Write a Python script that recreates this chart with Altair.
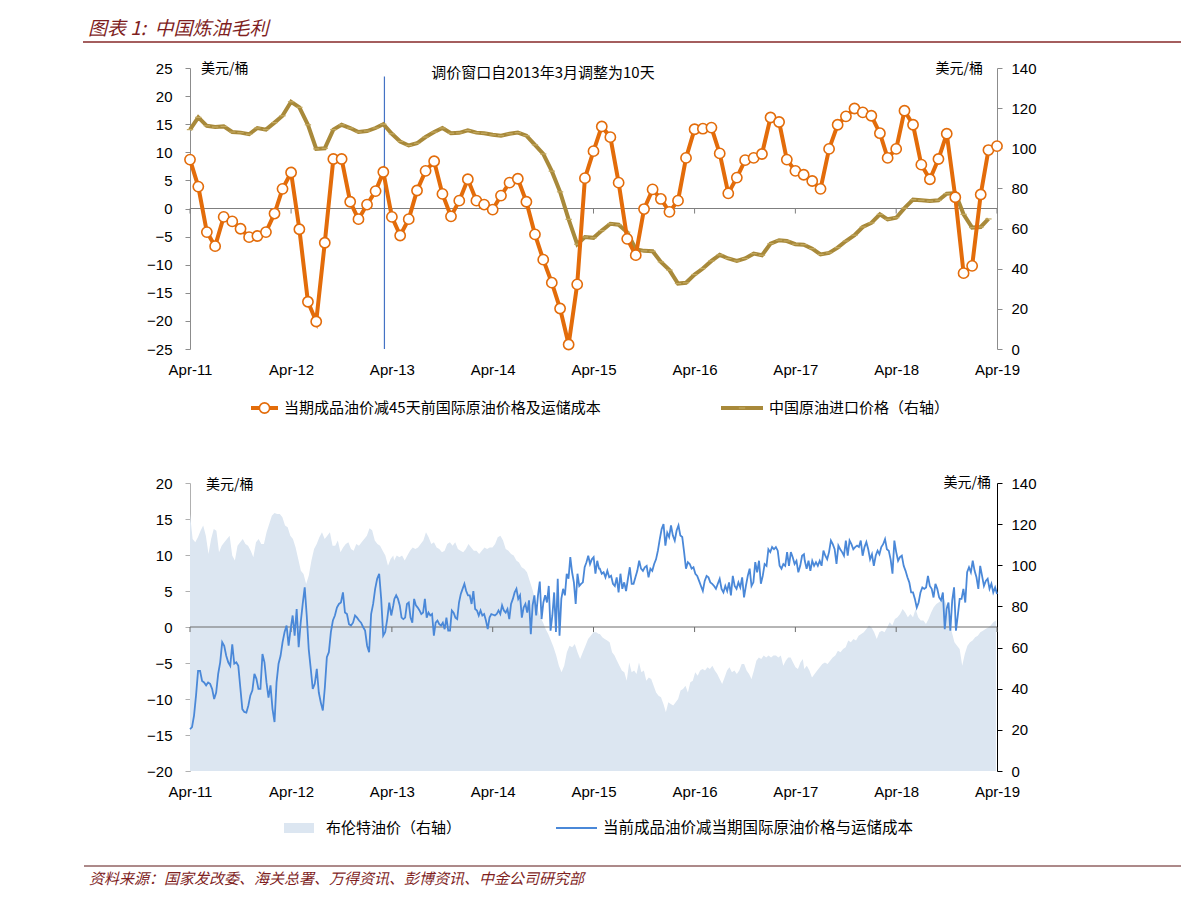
import altair as alt
import pandas as pd

# ---------------- data ----------------
# top panel, monthly from Apr-2011
orange = [8.7, 3.9, -4.2, -6.7, -1.5, -2.3, -3.6, -5.1, -4.9, -4.2,
          -0.9, 3.5, 6.4, -3.7, -16.6, -20.1, -6.1, 8.8, 8.8, 1.2,
          -1.9, 0.7, 3.1, 6.5, -1.5, -4.8, -1.9, 3.2, 6.7, 8.4,
          2.6, -1.4, 1.4, 5.2, 1.4, 0.7, -0.2, 2.3, 4.6, 5.3,
          1.2, -4.6, -9.1, -13.2, -17.8, -24.2, -13.5, 5.4, 10.2, 14.6,
          12.7, 4.6, -5.4, -8.3, -0.1, 3.4, 1.7, -0.6, 1.4, 9.0,
          14.1, 14.2, 14.4, 9.8, 2.7, 5.5, 8.6, 9.0, 9.7, 16.2,
          15.4, 8.7, 6.7, 6.0, 4.9, 3.5, 10.6, 14.9, 16.4, 17.8,
          17.1, 16.5, 13.4, 9.0, 10.6, 17.4, 14.9, 7.8, 5.2, 8.8,
          13.3, 2.0, -11.5, -10.2, 2.5, 10.4, 11.1]
olive = [109.3, 115.4, 111.2, 110.6, 110.9, 108.1, 107.8, 107.0, 110.1, 109.3,
         112.8, 116.2, 123.2, 120.4, 111.7, 99.7, 100.0, 109.3, 111.7, 110.1,
         108.1, 108.6, 110.1, 112.0, 107.2, 103.4, 101.4, 102.5, 105.6, 108.1,
         110.1, 107.5, 107.7, 108.9, 107.8, 107.5, 106.7, 106.3, 107.2, 107.8,
         106.3, 101.7, 97.2, 88.6, 78.3, 64.6, 52.2, 55.8, 55.4, 59.0,
         62.4, 61.9, 58.2, 49.7, 48.9, 48.7, 43.4, 39.3, 32.6, 33.0,
         37.1, 40.1, 43.9, 46.9, 45.1, 43.9, 45.1, 47.5, 46.7, 52.5,
         54.2, 53.8, 52.2, 52.0, 50.0, 47.1, 47.9, 50.5, 53.8, 56.7,
         60.8, 62.8, 67.1, 64.6, 65.4, 70.2, 74.4, 74.1, 73.7, 74.1,
         77.4, 77.7, 67.1, 60.5, 60.8, 64.8]

# bottom panel: margin (left axis), four consecutive stretches
blue1 = [-14.2, -13.9, -12.3, -9.5, -6.1, -6.1, -7.5, -7.7, -8.1, -7.7, -7.9, -8.6, -10, -9.1,
         -6.5, -4.9, -2.1, -2.6, -4.0, -4.9, -5.4, -2.4, -5.1, -4.9, -5.4, -8.4, -11.4, -11.8,
         -11.9, -10.9, -9.5, -8.8, -6.5, -7.2, -8.6, -8.6, -3.75, -4.9, -7.7, -9.8, -8.1, -11.4,
         -13.2, -7.7, -5.1, -4, -2.1, -0.7, 0.2, -2.6, -0.3, 1.6, -1.2, 2.5, -2.8, 0.6, 3.2, 5.5,
         1.6, -3.1, -5.8, -8.6, -7.9, -5.8, -9.1, -10.5, -11.6, -8.4, -4.2, -3.5, -0.7, 0.9, 1.6,
         2.7, 3.2, 3.4, 4.8, 2.0, 1.8, 0.4, 0.2, 0.6, 1.6, 1.3, 0.9, 0.6, 0, -0.5, -2.6, -3.5, 1.8,
         3.2, 5.3, 6.7, 7.4, 3.9, -1.2, -0.7, 1.1, 3.4, 1.6, 3.0]
blue2 = [3.9, 4.4, 3.9, 3.0, 1.3, 1.1, 1.3, 3.2, 3.4, 1.3, 0.6, 3.9, 3.0, 2.7, 2.3, 1.8, 2.0, 3.9,
         1.3, 2.0, 1.6, 1.8, -1.2, 0.6, 0.9, 0.4, 0.2, 0.6, -0.3, 1.3, -0.5, -0.5, 2.3, 2.0, 1.3,
         1.1, 3.4, 4.6, 5.3, 6.0, 5.0, 4.4, 4.4, 3.2, 5.0, 2.5, 2.3, 1.6, 2.3, 1.6, 1.8, 0.9, -0.3,
         1.3, 1.8, 1.7, 1.6, 1.8, 2.3, 1.8, 3.0, 2.3, 2.0, 2.5, 1.1, 3.2, 3.9, 4.8, 5.3, 3.9, 4.4,
         1.3, 2.7, 3.2, 2.0, 3.7, -1.0, 3.0, 4.4, 1.6, 4.4, 6.3, 1.1, 3.4, 4.4, 3.4, 5.7, -0.5, 1.6,
         4.8, -0.7, 6.7, -1.2, 3.9, 5.3, 4.4, 7.4, 6.7, 9.7, 7.6, 6.2, 3.2, 7.4, 5.7, 6.0, 6.2, 8.3,
         9.0, 9.9, 8.75, 9.4, 9.7, 7.4, 9.2, 8.1]
blue3 = [8.1, 7.4, 7.6, 6.9, 7.8, 6.9, 7.1, 6.0, 5.7, 6.9, 4.8, 7.4, 5.3, 6.2, 5.0, 6.7, 8.3, 6.0,
         6.0, 6.9, 7.8, 9.2, 8.1, 7.8, 8.3, 8.5, 6.9, 8.1, 7.8, 8.75, 9.4, 10.6, 12.2, 13.6, 14.3,
         11.3, 13.1, 12.5, 14.1, 12.7, 12.0, 13.4, 14.1, 12.7, 12.5, 10.4, 8.1, 9.0, 8.75, 8.1, 8.3,
         7.4, 7.1, 6.4, 5.7, 5.0, 6.4, 7.1, 6.9, 6.2, 6.0, 5.7, 5.3, 6.0, 6.7, 5.3, 4.8, 5.7, 5.0,
         6.2, 4.4, 7.1, 5.7, 5.3, 6.2, 5.5, 6.9, 4.1, 5.7, 7.1, 8.1, 5.7, 6.2, 9.0, 7.6, 9.2, 6.0,
         7.1, 8.75, 8.5, 10.8, 10.4, 11.1, 10.8, 11.1, 10.6, 8.5, 8.1, 8.75, 8.5, 10.4, 8.5, 10.4,
         9.7, 8.75, 9.2, 7.6, 8.5, 9.9, 10.1]
blue4 = [9.2, 8.1, 9.2, 7.8, 9.2, 8.5, 9.0, 8.5, 9.2, 8.5, 10.6, 9.9, 9.4, 10.4, 12.0, 11.5, 10.8,
         8.75, 11.3, 10.8, 10.4, 9.9, 12.0, 9.9, 12.0, 11.5, 10.8, 11.1, 11.3, 11.1, 12.0, 9.9, 11.1,
         11.8, 10.8, 9.4, 10.1, 8.5, 9.9, 10.6, 10.1, 11.1, 11.5, 12.2, 10.8, 10.6, 9.4, 7.4, 12.0,
         10.4, 9.2, 9.7, 9.9, 8.5, 7.8, 6.9, 6.2, 4.8, 4.8, 3.9, 2.7, 3.4, 4.8, 5.5, 5.3, 5.5, 7.1,
         5.7, 5.3, 4.1, 6.0, 5.3, 4.1, 3.7, 4.8, -0.3, 2.5, 3.4, -0.5, 3.7, 5.5, -0.5, 1.6, 3.9, 3.9,
         5.3, 3.4, 7.6, 8.3, 7.6, 9.2, 7.8, 6.9, 5.3, 8.5, 7.1, 5.7, 6.4, 6.7, 5.3, 6.0, 4.8, 5.5, 4.6]
blue_spans = [("2011-04-01", "2013-04-06"), ("2013-04-10", "2015-04-21"),
              ("2015-04-24", "2017-05-02"), ("2017-05-05", "2019-04-01")]

# bottom panel: Brent (right axis)
brent1 = [124.9, 112.8, 111.2, 113.6, 116.8, 119.3, 114.4, 105.5, 112.8, 117.6, 116.8, 106.3, 109.5,
          111.2, 112.8, 114.4, 104.7, 102.3, 109.5, 111.2, 112.8, 110.4, 109.5, 107.1, 103.9, 111.2,
          112.8, 110.4, 110.4, 116, 120.1, 124.1, 125.4, 124.9, 124.9, 123.3, 119.3, 118.5, 114.4,
          112.8, 108.7, 103, 97.4, 95.8, 90.9, 95, 102.3, 107.9, 110.4, 113.6, 116, 112.8, 114.4, 116,
          109.5, 109.5, 112, 106.3, 108.7, 110.4, 111.2, 107.9, 107.1, 110.4, 109.5, 111.2, 112.8,
          114.4, 118, 117, 112, 110.4, 109.5, 107.1, 104.7, 99.8, 103, 104.7]
brent2 = [102.3, 104.7, 103.9, 104.7, 102.3, 104.7, 107.1, 108.7, 107.9, 108.7, 110.4, 112, 116,
          113.6, 110.4, 111.2, 108.7, 107.9, 106.3, 107.1, 110.4, 111.2, 109.5, 111.2, 107.9, 107.1,
          106.3, 107.9, 110.4, 108.7, 107.1, 107.1, 105.5, 107.1, 108.7, 107.9, 108.7, 108.7, 110.4,
          113.6, 114.4, 112, 107.9, 107.1, 105.5, 104.7, 102.3, 101.4, 99, 98.2, 96.6, 92.5, 88.5,
          83.6, 78.8, 74.7, 72.3, 69, 66.6, 63.4, 60.1, 56.1, 51.2, 48, 51.2, 57.7, 60.9, 60.1, 61.7,
          57.7, 54.4, 57.7, 60.9, 64.2, 65.8, 67.4, 67.4, 66.6]
brent3 = [66.6, 65, 64.2, 63.4, 62.6, 57.7, 56.1, 53.6, 51.2, 48.8, 48, 43.9, 52.8, 48, 48.8, 47.2,
          52.8, 48, 48.8, 43.9, 45.5, 44.7, 41.5, 38.2, 36.6, 35.8, 32.6, 28.5, 33.4, 32.6, 31.8, 33.4,
          35, 39.1, 39.9, 41.5, 38.2, 43.1, 43.9, 48, 46.3, 48.8, 49.6, 48.8, 50.4, 49.6, 51.2, 48.8,
          47.2, 44.7, 42.3, 45.5, 48.8, 50.4, 48, 48.8, 47.2, 48.8, 52, 52, 48.8, 47.2, 44.7, 48.8,
          53.6, 55.2, 54.4, 56.1, 55.2, 56.1, 55.2, 56.1, 56.1, 55.2, 56.1, 51.2, 53.6, 55.2, 55.2,
          52.8, 50.4, 49.6, 52.8, 54.4]
brent4 = [49.6, 51.2, 48.8, 45.5, 47.2, 48.8, 50.4, 52, 52.8, 52, 53.6, 55.2, 56.1, 58.5, 57.7, 59.3,
          60.1, 63.4, 62.6, 64.2, 63.4, 65.8, 66.6, 67.4, 69, 70.7, 69.8, 67.4, 64.2, 67.4, 68.2, 67.4,
          69.8, 72.3, 70.7, 73.9, 74.7, 76.3, 78.8, 77.1, 74.7, 76.3, 74.7, 78.8, 74.7, 73.1, 73.1,
          71.5, 73.9, 77.1, 79.6, 81.2, 82, 82.8, 83.6, 80.4, 72.3, 67.4, 62.6, 60.9, 59.3, 51.2, 56.9,
          60.9, 62.6, 63.4, 65, 65.8, 67.4, 68.2, 69, 69.8, 70.7, 72.3, 73.1]
brent_spans = [("2011-04-01", "2013-04-06"), ("2013-04-09", "2015-04-20"),
               ("2015-04-24", "2017-04-28"), ("2017-05-03", "2019-03-28")]

year_ticks = list(range(2011, 2020))
left_top_ticks = list(range(-25, 30, 5))
left_bot_ticks = list(range(-20, 25, 5))
right_ticks = list(range(0, 160, 20))

title_text = "图表 1:\u00a0\u00a0中国炼油毛利"
source_text = "资料来源：国家发改委、海关总署、万得资讯、彭博资讯、中金公司研究部"
unit_text = "美元/桶"
note_text = "调价窗口自2013年3月调整为10天"
leg_orange = "当期成品油价减45天前国际原油价格及运储成本"
leg_olive = "中国原油进口价格（右轴）"
leg_brent = "布伦特油价（右轴）"
leg_blue = "当前成品油价减当期国际原油价格与运储成本"

# ---------------- tables ----------------
months = pd.date_range("2011-04-01", periods=len(orange), freq="MS")
orange_df = pd.DataFrame({"date": months, "v": orange})
olive_df = pd.DataFrame({"date": months[:len(olive)], "v": olive})


def spans_df(parts, spans):
    frames = []
    for vals, (a, b) in zip(parts, spans):
        frames.append(pd.DataFrame({"date": pd.date_range(a, b, periods=len(vals)), "v": vals}))
    return pd.concat(frames, ignore_index=True)


blue_df = spans_df([blue1, blue2, blue3, blue4], blue_spans)
brent_df = spans_df([brent1, brent2, brent3, brent4], brent_spans)
ticks_df = pd.DataFrame({"date": pd.to_datetime([f"{y}-04-01" for y in year_ticks])})
one = pd.DataFrame({"k": [0]})

# ---------------- style ----------------
LAT = "Liberation Sans"
CJK = "Noto Sans CJK SC"
ORANGE = "#E36C0A"
OLIVE = "#A8893A"
OLIVE_MARK = "#C4AA62"
BLUE = "#4A88D8"
AREA = "#DCE6F1"
DARKRED = "#7F1F1F"
W, H1, H2 = 807, 281, 288


def dt(y, m=4, d=1):
    return alt.DateTime(year=y, month=m, date=d)


xscale = alt.Scale(domain=[dt(2011), dt(2019)])
xaxis = alt.Axis(values=[dt(y) for y in year_ticks], format="%b-%y", title=None,
                 domain=False, ticks=False, grid=False, labelPadding=13,
                 labelFlush=False, labelOverlap=False, labelFont=LAT,
                 labelFontSize=15, labelColor="#000")


def X():
    return alt.X("date:T", scale=xscale, axis=xaxis)


def yaxis(values, orient, dom_color, pad):
    return alt.Axis(values=values, orient=orient, title=None, grid=False,
                    domainColor=dom_color, tickColor=dom_color, tickSize=5,
                    labelPadding=pad, labelFlush=False, labelOverlap=False,
                    labelFont=LAT, labelFontSize=15, labelColor="#000")


yl_top = alt.Scale(domain=[-25, 25], nice=False, zero=False)
yr = alt.Scale(domain=[0, 140], nice=False)
yl_bot = alt.Scale(domain=[-20, 20], nice=False, zero=False)


def txt(s, x, y, align="left", size=15, color="#000", style="normal", font=CJK):
    return alt.Chart(one).mark_text(align=align, baseline="middle", font=font,
                                    fontSize=size, color=color, fontStyle=style).encode(
        x=alt.value(x), y=alt.value(y), text=alt.value(s))


def hline(x1, x2, y, color, width):
    return alt.Chart(one).mark_rule(color=color, strokeWidth=width).encode(
        x=alt.value(x1), x2=alt.value(x2), y=alt.value(y))


# ---------------- top panel ----------------
zero_t = alt.Chart(one).mark_rule(color="#7f7f7f", strokeWidth=1).encode(
    y=alt.Y(datum=0, type="quantitative", scale=yl_top, axis=None))
ticks_t = alt.Chart(ticks_df).mark_rule(color="#7f7f7f", strokeWidth=1).encode(
    x=X(), y=alt.Y(datum=0, type="quantitative", scale=yl_top, axis=None), y2=alt.datum(-0.9))
vline = alt.Chart(one).mark_rule(color="#4472C4", strokeWidth=1.2).encode(
    x=alt.X(datum=dt(2013, 3, 5), type="temporal", scale=xscale, axis=xaxis),
    y=alt.Y(datum=23.5, type="quantitative", scale=yl_top, axis=None), y2=alt.datum(-25))
olive_line = alt.Chart(olive_df).mark_line(color=OLIVE, strokeWidth=4).encode(
    x=X(), y=alt.Y("v:Q", scale=yr, axis=yaxis(right_ticks, "right", "#8c8c8c", 9)))
olive_pts = alt.Chart(olive_df).mark_point(shape="stroke", size=40, strokeWidth=1.2,
                                           color=OLIVE_MARK, opacity=1).encode(
    x=X(), y=alt.Y("v:Q", scale=yr, axis=None))
orange_line = alt.Chart(orange_df).mark_line(color=ORANGE, strokeWidth=4).encode(
    x=X(), y=alt.Y("v:Q", scale=yl_top, axis=yaxis(left_top_ticks, "left", "#8c8c8c", 13)))
orange_pts = alt.Chart(orange_df).mark_point(shape="circle", filled=True, fill="white",
                                             stroke=ORANGE, strokeWidth=1.6, size=105,
                                             opacity=1).encode(
    x=X(), y=alt.Y("v:Q", scale=yl_top, axis=None))

top_deco = [
    txt(title_text, -102, -39, size=19, color=DARKRED, style="italic"),
    hline(-107, 991, -26, "#A45E5E", 2),
    txt(unit_text, 11, 1, size=14),
    txt(unit_text, 793, 1, align="right", size=14),
    txt(note_text, 353, 5, align="center", size=15),
    hline(61, 88, 340, ORANGE, 4),
    alt.Chart(one).mark_point(shape="circle", filled=True, fill="white", stroke=ORANGE,
                              strokeWidth=1.6, size=105, opacity=1).encode(
        x=alt.value(74.5), y=alt.value(340)),
    txt(leg_orange, 94, 340),
    hline(531, 573, 340, OLIVE, 4),
    alt.Chart(one).mark_point(shape="stroke", size=40, strokeWidth=1.2, color=OLIVE_MARK,
                              opacity=1).encode(x=alt.value(552), y=alt.value(340)),
    txt(leg_olive, 579, 340),
]

top = alt.layer(zero_t, ticks_t, vline, olive_line, olive_pts, orange_line, orange_pts,
                *top_deco).resolve_scale(y="independent").properties(width=W, height=H1)

# ---------------- bottom panel ----------------
area = alt.Chart(brent_df).mark_area(color=AREA, opacity=1).encode(
    x=X(), y=alt.Y("v:Q", scale=yr, axis=yaxis(right_ticks, "right", "#000000", 9)))
zero_b = alt.Chart(one).mark_rule(color="#6d6d6d", strokeWidth=1).encode(
    y=alt.Y(datum=0, type="quantitative", scale=yl_bot, axis=None))
ticks_b = alt.Chart(ticks_df).mark_rule(color="#6d6d6d", strokeWidth=1).encode(
    x=X(), y=alt.Y(datum=0, type="quantitative", scale=yl_bot, axis=None), y2=alt.datum(-0.7))
blue_line = alt.Chart(blue_df).mark_line(color=BLUE, strokeWidth=1.8).encode(
    x=X(), y=alt.Y("v:Q", scale=yl_bot, axis=yaxis(left_bot_ticks, "left", "#b0b0b0", 13)))

bot_deco = [
    txt(unit_text, 16, 2, size=14),
    txt(unit_text, 801, 0, align="right", size=14),
    alt.Chart(one).mark_rect(color=AREA).encode(
        x=alt.value(94), x2=alt.value(124), y=alt.value(340), y2=alt.value(350)),
    txt(leg_brent, 136, 345),
    hline(366, 407, 345, BLUE, 2),
    txt(leg_blue, 413, 345, size=15.5),
    hline(-106, 991, 383, "#5A1414", 1),
    txt(source_text, -101, 396, size=15, color=DARKRED, style="italic"),
]

bottom = alt.layer(area, zero_b, ticks_b, blue_line, *bot_deco).resolve_scale(
    y="independent").properties(width=W, height=H2)

chart = alt.vconcat(top, bottom, spacing=134, bounds="flush").properties(
    padding={"left": 74, "top": 12, "right": 0, "bottom": 0},
    background="white",
).configure_view(stroke=None)

chart.save("out.html", embed_options={"renderer": "svg", "actions": False})
